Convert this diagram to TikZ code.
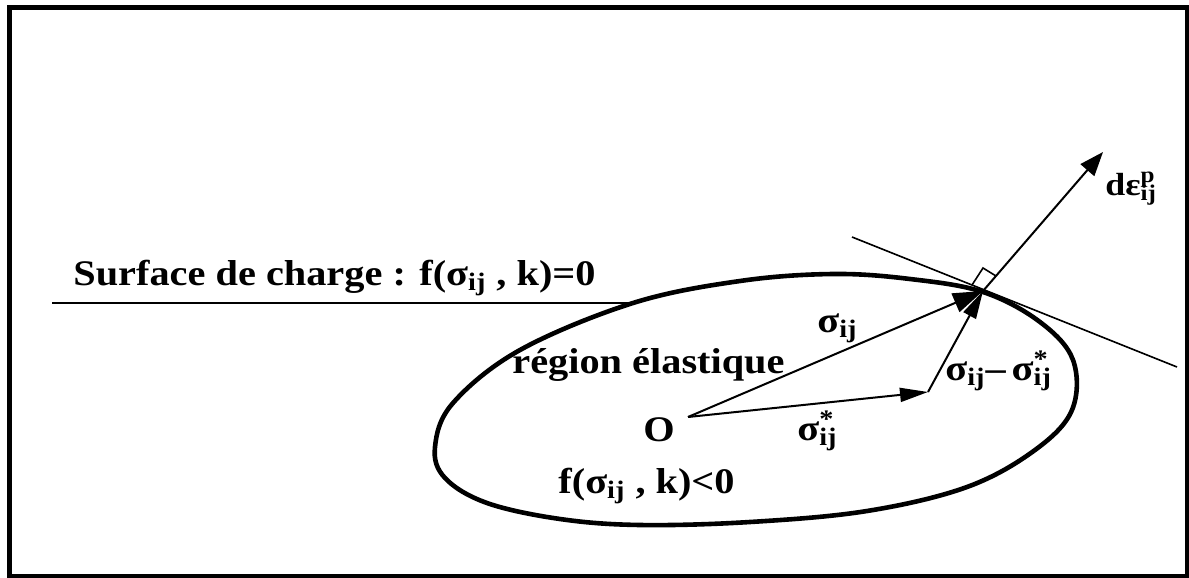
\documentclass[tikz,border=0pt]{standalone}
\usepackage{fontspec}
\setmainfont[FakeStretch=1.12]{Liberation Serif}
\usetikzlibrary{arrows.meta}
\newcommand{\sij}{σ\textsubscript{ij}}
\newcommand{\sijs}{σ\rlap{\textsuperscript{*}}\textsubscript{ij}}
\newcommand{\depsij}{dε\rlap{\textsuperscript{p}}\textsubscript{ij}}
\begin{document}
\begin{tikzpicture}[x=0.5pt,y=-0.5pt,
  lbl/.style={anchor=base west, inner sep=0pt, font=\fontsize{18}{20}\selectfont\bfseries},
  smalllbl/.style={anchor=base west, inner sep=0pt, font=\fontsize{16}{18}\selectfont\bfseries},
  vec/.style={line width=1pt, -{Triangle[length=14pt,width=7pt]}},
  bigvec/.style={line width=1pt, -{Triangle[length=15pt,width=10pt]}},
  normvec/.style={line width=1pt, -{Triangle[length=12pt,width=9pt]}},
  thinline/.style={line width=0.8pt},
  surf/.style={line width=2.3pt},
  frame/.style={line width=2.2pt}]
\useasboundingbox (0,0) rectangle (1189,578);
\draw[frame] (9.5,7.5) rectangle (1187.5,576);

% loading surface
\draw[surf] plot[smooth cycle, tension=0.6] coordinates {
  (435,447) (453,403) (520,350) (633,303) (740,281) (833,274) (910,279)
  (983,292) (1040,322) (1073,360) (1072,410) (1035,450) (967,487)
  (867,511) (750,522) (640,525) (560,519) (487,503) (445,478)};

% coordinates
\coordinate (O0) at (688,417);
\coordinate (Sstar) at (928,392);
\coordinate (P) at (983,291);
\coordinate (N) at (1103,152);
\coordinate (T1) at (852,237);
\coordinate (T2) at (1177,367);
\coordinate (L1) at (52,303);
\coordinate (L2) at (631,303);
\coordinate (RA) at (972,285);
\coordinate (RB) at (983,268);
\coordinate (RC) at (996,276);

% lines
\draw[thinline] (L1) -- (L2);
\draw[thinline] (T1) -- (T2);
\draw[vec] (O0) -- (Sstar);
\draw[bigvec] (O0) -- (P);
\draw[vec] (Sstar) -- (P);
\draw[normvec] (P) -- (N);
\draw[thinline] (RA) -- (RB) -- (RC);

% labels
\node[lbl] (surf) at (73,285) {Surface de charge : f(\sij\ , k)=0};
\node[lbl] (reg) at (512,373) {région élastique};
\node[lbl] (O) at (643,441) {O};
\node[lbl] (sstar) at (797,440) {\sijs};
\node[lbl] (sig) at (817,332) {\sij};
\node[lbl] (diff) at (945,380) {\sij–\,\sijs};
\node[lbl] (fneg) at (558,493) {f(\sij\ , k)<0};
\node[smalllbl] (deps) at (1105,195) {\depsij};
\end{tikzpicture}
\end{document}
